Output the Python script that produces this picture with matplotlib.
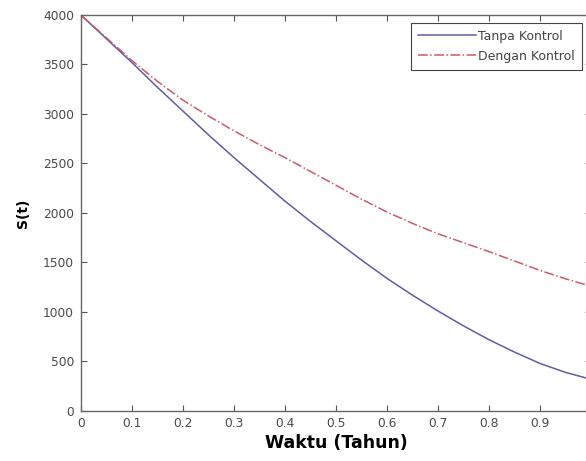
import numpy as np
import matplotlib
matplotlib.use("Agg")
import matplotlib.pyplot as plt

# waktu (tahun)
t = [0.0, 0.05, 0.1, 0.15, 0.2, 0.25, 0.3, 0.35, 0.4, 0.45, 0.5,
     0.55, 0.6, 0.65, 0.7, 0.75, 0.8, 0.85, 0.9, 0.95, 1.0]

s_tanpa = [4000, 3760, 3520, 3270, 3030, 2790, 2560, 2340, 2120, 1915, 1720,
           1525, 1340, 1170, 1010, 860, 720, 595, 480, 390, 320]

s_dengan = [4000, 3770, 3540, 3330, 3140, 2980, 2830, 2690, 2560, 2420, 2280,
            2140, 2010, 1895, 1790, 1700, 1610, 1515, 1420, 1335, 1260]

xticks = [0, 0.1, 0.2, 0.3, 0.4, 0.5, 0.6, 0.7, 0.8, 0.9, 1.0]
xticklabels = ["0", "0.1", "0.2", "0.3", "0.4", "0.5", "0.6", "0.7", "0.8", "0.9", ""]
yticks = [0, 500, 1000, 1500, 2000, 2500, 3000, 3500, 4000]

fig = plt.figure(figsize=(5.86, 4.61), dpi=100)
ax = fig.add_axes([0.138, 0.1085, 0.8705, 0.859])

ax.plot(t, s_tanpa, color="#5e5ea4", lw=1.1, label="Tanpa Kontrol")
ax.plot(t, s_dengan, color="#cc5a6a", lw=1.1, ls="-.", label="Dengan Kontrol")

ax.set_xlim(0, 1)
ax.set_ylim(0, 4000)
ax.set_xticks(xticks)
ax.set_xticklabels(xticklabels)
ax.set_yticks(yticks)

ax.tick_params(direction="in", top=True, right=True, length=4,
               labelsize=8.8, colors="#555555", labelcolor="#4a4a4a", width=0.8)
ax.tick_params(axis="y", pad=5)
ax.tick_params(axis="x", pad=4)
for sp in ax.spines.values():
    sp.set_color("#666666")
    sp.set_linewidth(1.0)

ax.set_xlabel("Waktu (Tahun)", fontsize=12.5, fontweight="bold", labelpad=3)
ax.set_ylabel("S(t)", fontsize=10, fontweight="bold", labelpad=9)

leg = ax.legend(loc="upper right", bbox_to_anchor=(0.982, 0.980), fontsize=9,
                fancybox=False, framealpha=1, edgecolor="#444444",
                handlelength=4.6, borderpad=0.55, labelspacing=0.55,
                handletextpad=0.2, borderaxespad=0)
leg.get_frame().set_linewidth(0.8)
for txt in leg.get_texts():
    txt.set_color("#444444")

plt.savefig("out.png", dpi=100)
plt.close()
